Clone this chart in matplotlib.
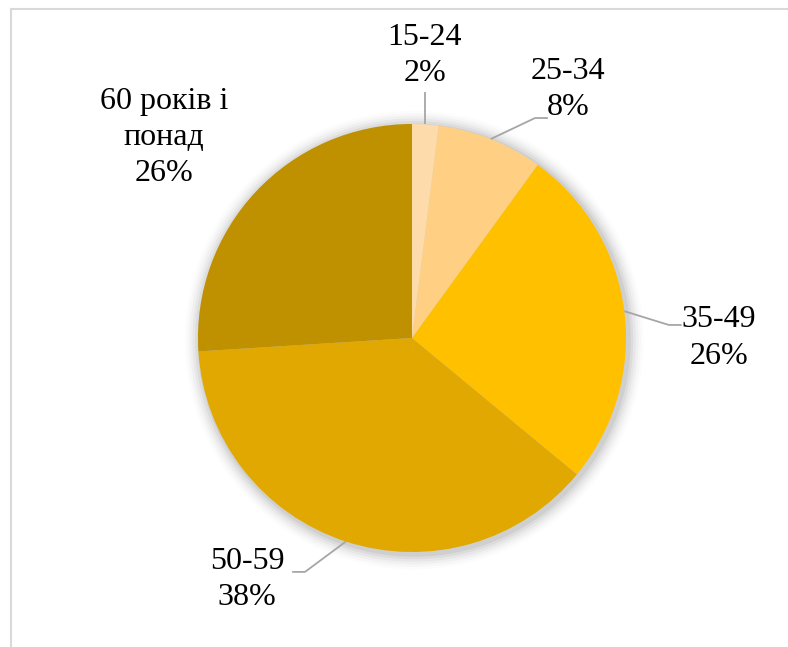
import numpy as np
import matplotlib
matplotlib.use("Agg")
import matplotlib.pyplot as plt
from matplotlib.patches import Circle

# Age groups and their shares (%)
categories = ["15-24", "25-34", "35-49", "50-59", "60 років і\nпонад"]
shares = [2, 8, 26, 38, 26]
colors = ["#FDDBAA", "#FFD083", "#FFC000", "#E0A800", "#BF9000"]

# Label anchor points (in pie-radius units) and leader elbows
label_pos = [(0.06, 1.32), (0.73, 1.16), (1.435, 0.0), (-0.77, -1.13), (-1.16, 0.935)]
elbows = [(0.05, 1.15), (0.575, 1.028), (1.20, 0.061), (-0.50, -1.093), None]

W, H = 788, 647
cx, cy, R = 412, 338, 214

fig = plt.figure(figsize=(W / 100, H / 100), dpi=100)
ax = fig.add_axes([0, 0, 1, 1])

# soft halo under the pie
for i, a in enumerate(np.linspace(0.05, 0.01, 6)):
    ax.add_patch(Circle((0.01, -0.01), 1.0 + 0.012 * (i + 1), color="#000000",
                        alpha=a, lw=0, zorder=0))

wedges, _ = ax.pie(shares, colors=colors, startangle=90, counterclock=False,
                   radius=1.0, center=(0, 0), frame=True,
                   wedgeprops=dict(linewidth=0))
ax.set_xlim(-cx / R, (W - cx) / R)
ax.set_ylim((cy - H) / R, cy / R)
ax.set_aspect("equal")
ax.axis("off")

font = dict(family="Liberation Serif", fontsize=23, color="black")
for w, cat, val, (lx, ly), el in zip(wedges, categories, shares, label_pos, elbows):
    ax.text(lx, ly, f"{cat}\n{val}%", ha="center", va="center",
            linespacing=1.32, zorder=5, **font)
    if el is None:
        continue
    ang = np.deg2rad((w.theta1 + w.theta2) / 2)
    sx, sy = np.cos(ang), np.sin(ang)
    ex, ey = el
    if abs(ex) < 0.1:
        pts = [(sx, sy), (sx, ey)]
    else:
        hx = ex + (0.06 if ex > 0 else -0.06)
        pts = [(sx, sy), (ex, ey), (hx, ey)]
    xs, ys = zip(*pts)
    ax.plot(xs, ys, color="#A6A6A6", lw=1.3, zorder=4, solid_capstyle="butt")

# outer frame (partly cropped on the right and bottom)
fig.add_artist(plt.Line2D([10.5 / W, 10.5 / W], [0, 1 - 9 / H], color="#D9D9D9",
                          lw=1.5, transform=fig.transFigure))
fig.add_artist(plt.Line2D([10.5 / W, 1], [1 - 9 / H, 1 - 9 / H], color="#D9D9D9",
                          lw=1.5, transform=fig.transFigure))

fig.savefig("out.png", dpi=100, facecolor="white")
